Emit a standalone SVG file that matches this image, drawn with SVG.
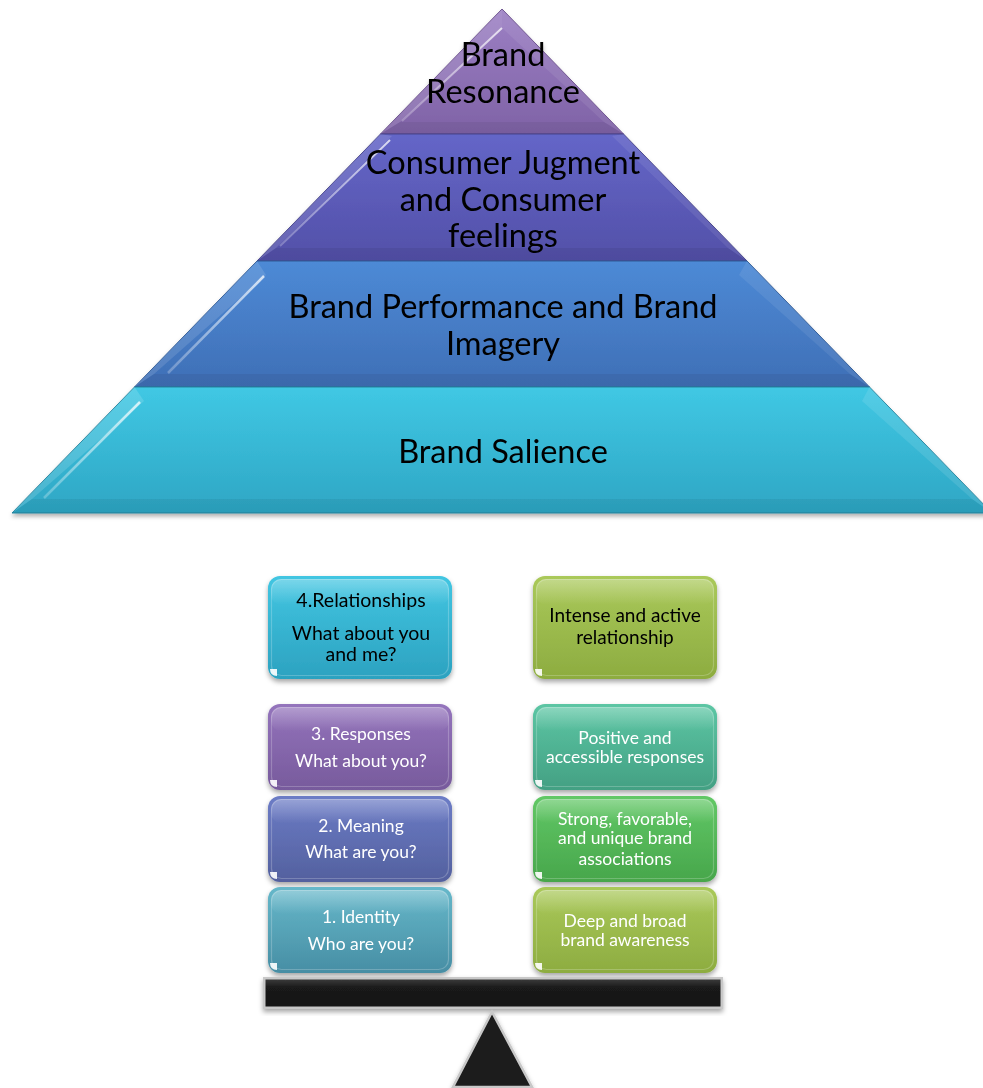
<svg xmlns="http://www.w3.org/2000/svg" width="983" height="1088" viewBox="0 0 983 1088">
  <defs>
    <style>
      .pt { font-family: Lato, "Liberation Sans", sans-serif; font-size: 32.5px; fill: #000; text-anchor: middle; }
      .bt { font-family: Lato, "Liberation Sans", sans-serif; font-size: 17.5px; text-anchor: middle; }
      .dark { fill: #000; font-size: 19.5px; }
      .light { fill: #fff; }
      .gloss { fill: url(#glossG); }
      .corner { fill: #fff; opacity: 0.9; }
      .rim { fill: none; stroke: #fff; stroke-opacity: 0.22; stroke-width: 1.2; }
    </style>
    <filter id="shadow" x="-10%" y="-10%" width="120%" height="130%">
      <feDropShadow dx="0" dy="3" stdDeviation="2.5" flood-color="#000" flood-opacity="0.35"/>
    </filter>
    <filter id="pyrShadow" x="-5%" y="-5%" width="110%" height="115%">
      <feDropShadow dx="0" dy="3" stdDeviation="2" flood-color="#000" flood-opacity="0.3"/>
    </filter>
    <!-- pyramid tier fills -->
    <linearGradient id="t1" x1="0" y1="0" x2="0" y2="1">
      <stop offset="0" stop-color="#9c80c4"/>
      <stop offset="1" stop-color="#7f62a6"/>
    </linearGradient>
    <linearGradient id="t2" x1="0" y1="0" x2="0" y2="1">
      <stop offset="0" stop-color="#6466c8"/>
      <stop offset="1" stop-color="#5350a8"/>
    </linearGradient>
    <linearGradient id="t3" x1="0" y1="0" x2="0" y2="1">
      <stop offset="0" stop-color="#4d8ad6"/>
      <stop offset="1" stop-color="#3f6fb6"/>
    </linearGradient>
    <linearGradient id="t4" x1="0" y1="0" x2="0" y2="1">
      <stop offset="0" stop-color="#40c8e4"/>
      <stop offset="1" stop-color="#2ea6c4"/>
    </linearGradient>
    <!-- box fills -->
    <linearGradient id="bCyan" x1="0" y1="0" x2="0" y2="1">
      <stop offset="0" stop-color="#42c6e2"/>
      <stop offset="1" stop-color="#2ca2c0"/>
    </linearGradient>
    <linearGradient id="bPurple" x1="0" y1="0" x2="0" y2="1">
      <stop offset="0" stop-color="#9474bc"/>
      <stop offset="1" stop-color="#775a9c"/>
    </linearGradient>
    <linearGradient id="bBlue" x1="0" y1="0" x2="0" y2="1">
      <stop offset="0" stop-color="#6c7cc6"/>
      <stop offset="1" stop-color="#53609e"/>
    </linearGradient>
    <linearGradient id="bTeal" x1="0" y1="0" x2="0" y2="1">
      <stop offset="0" stop-color="#66b8ca"/>
      <stop offset="1" stop-color="#478ea4"/>
    </linearGradient>
    <linearGradient id="bOlive" x1="0" y1="0" x2="0" y2="1">
      <stop offset="0" stop-color="#aac95a"/>
      <stop offset="1" stop-color="#8dac40"/>
    </linearGradient>
    <linearGradient id="bSea" x1="0" y1="0" x2="0" y2="1">
      <stop offset="0" stop-color="#5cc6a4"/>
      <stop offset="1" stop-color="#43a083"/>
    </linearGradient>
    <linearGradient id="bGreen" x1="0" y1="0" x2="0" y2="1">
      <stop offset="0" stop-color="#62c866"/>
      <stop offset="1" stop-color="#47a64b"/>
    </linearGradient>
    <linearGradient id="glossG" x1="0" y1="0" x2="0" y2="1">
      <stop offset="0" stop-color="#fff" stop-opacity="0.3"/>
      <stop offset="1" stop-color="#fff" stop-opacity="0"/>
    </linearGradient>
    <linearGradient id="beamG" x1="0" y1="0" x2="0" y2="1">
      <stop offset="0" stop-color="#3a3a3a"/>
      <stop offset="0.3" stop-color="#1a1a1a"/>
      <stop offset="1" stop-color="#151515"/>
    </linearGradient>
    <linearGradient id="hlLeft" x1="1" y1="0" x2="0" y2="1">
      <stop offset="0" stop-color="#fff" stop-opacity="0.75"/>
      <stop offset="1" stop-color="#fff" stop-opacity="0.25"/>
    </linearGradient>
  </defs>

  <!-- pyramid -->
  <g id="pyramid" filter="url(#pyrShadow)">
    <g id="tier-resonance">
      <polygon points="502,9 380.5,134 623.5,134" fill="url(#t1)" stroke="#6a4e8c" stroke-width="1"/>
      <!-- bevel faces -->
      <polygon points="502,9 380.5,134 400,122 502,28" fill="#fff" fill-opacity="0.12"/>
      <polygon points="502,9 623.5,134 604,122 502,28" fill="#fff" fill-opacity="0.08"/>
      <polygon points="380.5,134 623.5,134 604,122 400,122" fill="#000" fill-opacity="0.06"/>
      <line x1="502" y1="28" x2="402" y2="121" stroke="url(#hlLeft)" stroke-width="2"/>
      <text class="pt" x="503" y="66">Brand</text>
      <text class="pt" x="503" y="103">Resonance</text>
    </g>
    <g id="tier-judgment">
      <polygon points="380.5,134 623.5,134 747,261 257,261" fill="url(#t2)" stroke="#44428a" stroke-width="1"/>
      <polygon points="380.5,134 257,261 276,248 392,136" fill="#fff" fill-opacity="0.12"/>
      <polygon points="623.5,134 747,261 728,248 612,136" fill="#fff" fill-opacity="0.08"/>
      <polygon points="257,261 747,261 728,248 276,248" fill="#000" fill-opacity="0.06"/>
      <line x1="390" y1="140" x2="280" y2="246" stroke="url(#hlLeft)" stroke-width="2"/>
      <text class="pt" x="503" y="174">Consumer Jugment</text>
      <text class="pt" x="503" y="211">and Consumer</text>
      <text class="pt" x="503" y="247">feelings</text>
    </g>
    <g id="tier-performance">
      <polygon points="257,261 747,261 869.5,387 134.5,387" fill="url(#t3)" stroke="#2f5a96" stroke-width="1"/>
      <polygon points="257,261 134.5,387 154,374 266,275" fill="#fff" fill-opacity="0.12"/>
      <polygon points="747,261 869.5,387 850,374 739,275" fill="#fff" fill-opacity="0.08"/>
      <polygon points="134.5,387 869.5,387 850,374 154,374" fill="#000" fill-opacity="0.06"/>
      <line x1="264" y1="276" x2="168" y2="373" stroke="url(#hlLeft)" stroke-width="2.5"/>
      <text class="pt" x="503" y="318">Brand Performance and Brand</text>
      <text class="pt" x="503" y="355">Imagery</text>
    </g>
    <g id="tier-salience">
      <polygon points="134.5,387 869.5,387 992,513 12,513" fill="url(#t4)" stroke="#24849e" stroke-width="1"/>
      <polygon points="134.5,387 12,513 32,499 144,401" fill="#fff" fill-opacity="0.14"/>
      <polygon points="869.5,387 992,513 972,499 862,401" fill="#fff" fill-opacity="0.1"/>
      <polygon points="12,513 992,513 972,499 32,499" fill="#000" fill-opacity="0.06"/>
      <line x1="140" y1="402" x2="44" y2="498" stroke="url(#hlLeft)" stroke-width="2.5"/>
      <text class="pt" x="503" y="463">Brand Salience</text>
    </g>
  </g>

  <!-- left column: levels -->
  <g id="box-relationships" filter="url(#shadow)">
    <rect x="268" y="576" width="184" height="103" rx="12" fill="url(#bCyan)"/>
    <rect x="271" y="579" width="178" height="26" rx="10" class="gloss"/>
    <rect x="271.5" y="579.5" width="177" height="96" rx="10" class="rim"/>
    <path class="corner" d="M270,669 L277,669 L277,676 Q270,676 270,669 Z"/>
    <text class="bt dark" x="361" y="607">4.Relationships</text>
    <text class="bt dark" x="361" y="640">What about you</text>
    <text class="bt dark" x="361" y="661">and me?</text>
  </g>
  <g id="box-responses" filter="url(#shadow)">
    <rect x="268" y="704" width="184" height="86" rx="12" fill="url(#bPurple)"/>
    <rect x="271" y="707" width="178" height="24" rx="10" class="gloss"/>
    <rect x="271.5" y="707.5" width="177" height="79" rx="10" class="rim"/>
    <path class="corner" d="M270,780 L277,780 L277,787 Q270,787 270,780 Z"/>
    <text class="bt light" x="361" y="740">3. Responses</text>
    <text class="bt light" x="361" y="767">What about you?</text>
  </g>
  <g id="box-meaning" filter="url(#shadow)">
    <rect x="268" y="796" width="184" height="86" rx="12" fill="url(#bBlue)"/>
    <rect x="271" y="799" width="178" height="24" rx="10" class="gloss"/>
    <rect x="271.5" y="799.5" width="177" height="79" rx="10" class="rim"/>
    <path class="corner" d="M270,872 L277,872 L277,879 Q270,879 270,872 Z"/>
    <text class="bt light" x="361" y="832">2. Meaning</text>
    <text class="bt light" x="361" y="858">What are you?</text>
  </g>
  <g id="box-identity" filter="url(#shadow)">
    <rect x="268" y="887" width="184" height="86" rx="12" fill="url(#bTeal)"/>
    <rect x="271" y="890" width="178" height="24" rx="10" class="gloss"/>
    <rect x="271.5" y="890.5" width="177" height="79" rx="10" class="rim"/>
    <path class="corner" d="M270,963 L277,963 L277,970 Q270,970 270,963 Z"/>
    <text class="bt light" x="361" y="923">1. Identity</text>
    <text class="bt light" x="361" y="950">Who are you?</text>
  </g>

  <!-- right column: outcomes -->
  <g id="box-intense" filter="url(#shadow)">
    <rect x="533" y="576" width="184" height="103" rx="12" fill="url(#bOlive)"/>
    <rect x="536" y="579" width="178" height="26" rx="10" class="gloss"/>
    <rect x="536.5" y="579.5" width="177" height="96" rx="10" class="rim"/>
    <path class="corner" d="M535,669 L542,669 L542,676 Q535,676 535,669 Z"/>
    <text class="bt dark" x="625" y="622" style="font-size:19px">Intense and active</text>
    <text class="bt dark" x="625" y="644" style="font-size:19px">relationship</text>
  </g>
  <g id="box-positive" filter="url(#shadow)">
    <rect x="533" y="704" width="184" height="86" rx="12" fill="url(#bSea)"/>
    <rect x="536" y="707" width="178" height="24" rx="10" class="gloss"/>
    <rect x="536.5" y="707.5" width="177" height="79" rx="10" class="rim"/>
    <path class="corner" d="M535,780 L542,780 L542,787 Q535,787 535,780 Z"/>
    <text class="bt light" x="625" y="744">Positive and</text>
    <text class="bt light" x="625" y="763">accessible responses</text>
  </g>
  <g id="box-strong" filter="url(#shadow)">
    <rect x="533" y="796" width="184" height="86" rx="12" fill="url(#bGreen)"/>
    <rect x="536" y="799" width="178" height="24" rx="10" class="gloss"/>
    <rect x="536.5" y="799.5" width="177" height="79" rx="10" class="rim"/>
    <path class="corner" d="M535,872 L542,872 L542,879 Q535,879 535,872 Z"/>
    <text class="bt light" x="625" y="825">Strong, favorable,</text>
    <text class="bt light" x="625" y="844">and unique brand</text>
    <text class="bt light" x="625" y="865">associations</text>
  </g>
  <g id="box-deep" filter="url(#shadow)">
    <rect x="533" y="887" width="184" height="86" rx="12" fill="url(#bOlive)"/>
    <rect x="536" y="890" width="178" height="24" rx="10" class="gloss"/>
    <rect x="536.5" y="890.5" width="177" height="79" rx="10" class="rim"/>
    <path class="corner" d="M535,963 L542,963 L542,970 Q535,970 535,963 Z"/>
    <text class="bt light" x="625" y="927">Deep and broad</text>
    <text class="bt light" x="625" y="946">brand awareness</text>
  </g>

  <!-- balance -->
  <g id="beam" filter="url(#shadow)">
    <rect x="263" y="977" width="460" height="32" fill="#c8c8c8"/>
    <rect x="265.5" y="979.5" width="455" height="27" fill="url(#beamG)"/>
  </g>
  <g id="fulcrum" filter="url(#shadow)">
    <polygon points="492,1012 453,1087 532,1087" fill="#1a1a1a" stroke="#c8c8c8" stroke-width="2.5" stroke-linejoin="miter"/>
  </g>
</svg>
